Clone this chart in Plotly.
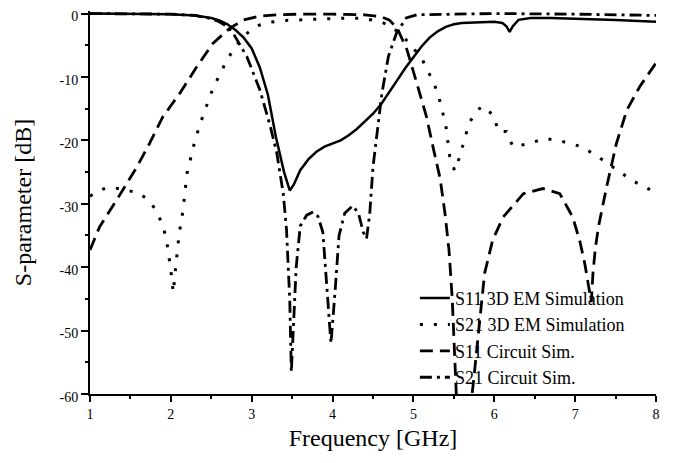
import plotly.graph_objects as go

# S11 3D EM Simulation (solid)
s11_em_f = [1.0, 1.5, 2.0, 2.3, 2.5, 2.6, 2.7, 2.8, 2.9, 3.0, 3.1, 3.2, 3.3, 3.4, 3.47, 3.52, 3.6, 3.7,
            3.8, 3.9, 4.0, 4.1, 4.2, 4.3, 4.4, 4.5, 4.6, 4.7, 4.8, 4.9, 5.0, 5.1, 5.2, 5.3, 5.4, 5.5,
            5.6, 5.8, 6.0, 6.1, 6.15, 6.19, 6.23, 6.3, 6.45, 6.7, 7.0, 7.5, 8.0]
s11_em_db = [0, 0, -0.1, -0.3, -0.7, -1.1, -1.7, -2.6, -3.8, -5.5, -8.5, -12.8, -19.5, -25, -27.9, -27,
             -24.7, -23, -21.8, -21, -20.5, -20, -19.2, -18.2, -17, -15.8, -14.3, -12.5, -10.5, -8.6,
             -6.8, -5.2, -3.8, -2.8, -2.1, -1.7, -1.5, -1.35, -1.3, -1.5, -2.0, -2.9, -2.0, -1.0, -0.7,
             -0.7, -0.8, -1.0, -1.3]

# S21 3D EM Simulation (dotted)
s21_em_f = [1.0, 1.1, 1.2, 1.3, 1.4, 1.5, 1.6, 1.7, 1.8, 1.9, 1.95, 2.0, 2.03, 2.06, 2.1, 2.15, 2.2, 2.3,
            2.4, 2.5, 2.6, 2.7, 2.8, 2.9, 3.0, 3.1, 3.2, 3.4, 3.6, 3.8, 4.0, 4.2, 4.4, 4.6, 4.7, 4.8,
            4.9, 5.0, 5.1, 5.2, 5.3, 5.4, 5.45, 5.51, 5.58, 5.64, 5.7, 5.84, 5.99, 6.05, 6.15, 6.23,
            6.4, 6.63, 6.85, 7.08, 7.26, 7.49, 7.7, 7.93, 8.0]
s21_em_db = [-28.8, -28, -27.5, -27.5, -27.7, -28, -28.3, -29.2, -30.7, -33.3, -36, -40.5, -44, -40, -35,
             -31, -25.2, -19.9, -16, -12.5, -9.7, -7.2, -5.2, -3.6, -2.5, -1.8, -1.4, -1.1, -1.0, -0.9,
             -0.8, -0.7, -0.8, -1.3, -1.9, -2.8, -4.0, -5.5, -7.0, -9.6, -12.4, -17.6, -22.6, -24.8,
             -22.3, -19.4, -17, -14.6, -16, -18.6, -18.6, -21, -20.6, -19.7, -20.2, -21, -22.4, -24.4,
             -26.3, -27.8, -28.0]

# S11 Circuit Sim. (dashed)
s11_ck_f = [1.0, 1.12, 1.33, 1.58, 1.74, 1.9, 2.11, 2.32, 2.52, 2.73, 2.9, 3.1, 3.3, 3.6, 4.0, 4.4, 4.6,
            4.7, 4.8, 4.92, 5.04, 5.16, 5.25, 5.33, 5.39, 5.44, 5.48, 5.53, 5.63, 5.74, 5.88, 5.98,
            6.11, 6.36, 6.6, 6.81, 6.97, 7.06, 7.12, 7.17, 7.2, 7.22, 7.25, 7.29, 7.39, 7.51, 7.64,
            7.8, 8.0]
s11_ck_db = [-37.3, -33.6, -29.4, -24.2, -20.4, -16.3, -12.6, -8.4, -4.7, -2.3, -1.0, -0.4, -0.2, -0.1,
             -0.1, -0.2, -0.5, -1.0, -2.3, -5.7, -10.9, -16.2, -21.5, -26, -31.5, -37.3, -45, -60,
             -70, -58.4, -41, -35.7, -32.1, -28.4, -27.6, -28.4, -32.1, -36, -39.5, -43, -45.5, -41,
             -37, -33.5, -27.3, -20.5, -15.2, -11.5, -7.8]

# S21 Circuit Sim. (dash-dot)
s21_ck_f = [1.0, 1.5, 2.0, 2.3, 2.5, 2.6, 2.7, 2.77, 2.94, 3.1, 3.23, 3.31, 3.39, 3.43, 3.47, 3.49, 3.52,
            3.55, 3.6, 3.68, 3.76, 3.82, 3.88, 3.94, 3.98, 4.03, 4.08, 4.15, 4.25, 4.32, 4.38, 4.42,
            4.46, 4.5, 4.55, 4.61, 4.69, 4.79, 4.91, 5.04, 5.5, 6.0, 7.0, 8.0]
s21_ck_db = [0, 0, -0.1, -0.3, -0.8, -1.3, -2.1, -3.1, -6.8, -12, -17.8, -22, -28.4, -34, -45, -56.5,
             -48, -40, -33.5, -31.8, -31.3, -32, -34.5, -46, -52, -44, -35, -31.5, -30.3, -31.5,
             -34.5, -35.5, -31.5, -24.2, -18.9, -12.6, -6.8, -3.1, -0.7, -0.2, -0.1, 0, -0.1, -0.3]

names = ["S11 3D EM Simulation", "S21 3D EM Simulation", "S11 Circuit Sim.", "S21 Circuit Sim."]

x_ticks = [1, 2, 3, 4, 5, 6, 7, 8]
y_ticks = [0, -10, -20, -30, -40, -50, -60]
y_tick_text = ["0", "-10", "-20", "-30", "-40", "-50", "-60"]

FONT = "Liberation Serif, Times New Roman, serif"

fig = go.Figure()
series = [
    (s11_em_f, s11_em_db, "solid", 2.5),
    (s21_em_f, s21_em_db, "3px,11px", 3),
    (s11_ck_f, s11_ck_db, "13px,7px", 2.8),
    (s21_ck_f, s21_ck_db, "12px,5px,3px,5px", 2.8),
]
for (xs, ys, dash, w), nm in zip(series, names):
    fig.add_trace(go.Scatter(x=xs, y=ys, mode="lines", name=nm,
                             line=dict(color="black", width=w, dash=dash)))

# the page body adds an 8px offset, margins compensate for it
fig.update_layout(
    width=674, height=463,
    margin=dict(l=82, r=26, t=3, b=77),
    paper_bgcolor="white", plot_bgcolor="white",
    font=dict(family=FONT, color="black", size=14),
    showlegend=True,
    legend=dict(x=0.574, y=0.298, xanchor="left", yanchor="top",
                bgcolor="rgba(0,0,0,0)", font=dict(size=18, family=FONT),
                tracegroupgap=0, itemwidth=30),
)
fig.update_xaxes(range=[1, 8], tickvals=x_ticks, showgrid=False, zeroline=False, automargin=False,
                 showline=True, linecolor="black", linewidth=2, ticklabeloverflow="allow",
                 ticks="outside", ticklen=6, tickwidth=1.5, tickcolor="black",
                 minor=dict(ticks="outside", ticklen=3, tickwidth=1.5, dtick=0.5, tickcolor="black"),
                 tickfont=dict(size=14, family=FONT),
                 title=dict(text="Frequency [GHz]", font=dict(size=24, family=FONT), standoff=8))
fig.update_yaxes(range=[-60, 0.4], tickvals=y_ticks, ticktext=y_tick_text, showgrid=False,
                 zeroline=False, showline=True, linecolor="black", linewidth=2, automargin=False,
                 ticklabeloverflow="allow", ticklabelshift=3,
                 ticks="outside", ticklen=7, tickwidth=1.5, tickcolor="black",
                 minor=dict(ticks="outside", ticklen=3, tickwidth=1.5, dtick=5, tickcolor="black"),
                 tickfont=dict(size=14, family=FONT),
                 title=dict(text="S-parameter [dB]", font=dict(size=24, family=FONT), standoff=21))

fig.write_html("out.html")
